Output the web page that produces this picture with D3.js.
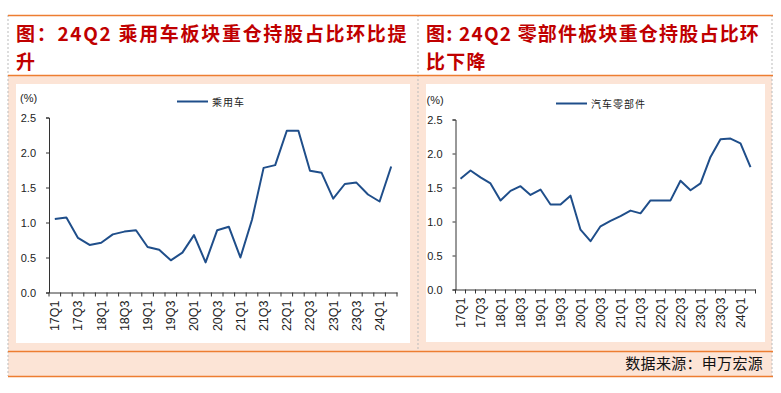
<!doctype html>
<html>
<head>
<meta charset="utf-8">
<style>
    body { margin: 0; background: #fff; }
    svg { display: block; }
    .tick text { font-family: "Liberation Sans", Arial, sans-serif; font-size: 11px; fill: #222; }
    .xlab .tick text { font-size: 12.5px; }
    .title { font-family: "Noto Sans CJK SC", sans-serif; font-weight: bold; font-size: 19px; fill: #c00000; }
</style>
<script src="https://d3js.org/d3.v7.min.js"></script>
</head>
<body>
<svg width="781" height="393"></svg>
<script>
    var quarters = ["17Q1","17Q2","17Q3","17Q4","18Q1","18Q2","18Q3","18Q4",
        "19Q1","19Q2","19Q3","19Q4","20Q1","20Q2","20Q3","20Q4",
        "21Q1","21Q2","21Q3","21Q4","22Q1","22Q2","22Q3","22Q4",
        "23Q1","23Q2","23Q3","23Q4","24Q1","24Q2"];
    var passengerCar = [1.05,1.07,0.78,0.68,0.71,0.83,0.87,0.89,
        0.65,0.61,0.46,0.57,0.82,0.43,0.89,0.94,
        0.50,1.04,1.78,1.82,2.31,2.31,1.74,1.71,
        1.34,1.55,1.57,1.40,1.30,1.80];
    var autoParts = [1.63,1.75,1.65,1.56,1.31,1.45,1.52,1.39,
        1.47,1.25,1.25,1.38,0.88,0.71,0.93,1.01,
        1.08,1.16,1.12,1.31,1.31,1.31,1.60,1.46,
        1.56,1.95,2.21,2.22,2.15,1.80];
    var yTicks = [0, 0.5, 1.0, 1.5, 2.0, 2.5];

    var svg = d3.select("svg");
    var orange = "#ed7d31", peach = "#fce4d6", blue = "#1f4e8a";

    // frame
    svg.append("rect").attr("x", 8).attr("y", 75).attr("width", 764).attr("height", 301).attr("fill", peach);
    svg.append("rect").attr("x", 16).attr("y", 84).attr("width", 394).attr("height", 259).attr("fill", "#fff");
    svg.append("rect").attr("x", 426).attr("y", 84).attr("width", 339).attr("height", 258).attr("fill", "#fff");
    [[8, 15, 8, 376], [418, 15, 418, 351], [772, 15, 772, 376]].forEach(function (l) {
        svg.append("line").attr("x1", l[0]).attr("y1", l[1]).attr("x2", l[2]).attr("y2", l[3])
            .attr("stroke", "#bbb").attr("stroke-dasharray", "2,2");
    });
    [15, 75, 351, 376].forEach(function (y) {
        svg.append("line").attr("x1", 8).attr("x2", 773).attr("y1", y + 0.5).attr("y2", y + 0.5)
            .attr("stroke", orange).attr("stroke-width", 1.3);
    });

    // titles
    function title(x, lines, spacing) {
        var t = svg.append("text").attr("class", "title").attr("letter-spacing", spacing);
        lines.forEach(function (s, i) {
            t.append("tspan").attr("x", x).attr("y", 41 + i * 28).text(s);
        });
    }
    title(16, ["图：24Q2 乘用车板块重仓持股占比环比提", "升"], 1.7);
    title(426, ["图: 24Q2 零部件板块重仓持股占比环", "比下降"], 1.2);

    svg.append("text").attr("x", 763).attr("y", 369).attr("text-anchor", "end")
        .attr("font-family", "Noto Sans CJK SC, sans-serif").attr("font-size", 15)
        .attr("letter-spacing", 0.3).attr("fill", "#111").text("数据来源：申万宏源");

    function chart(values, name, left, right, top, bottom, legendX) {
        var x = d3.scaleBand().domain(quarters).range([left, right]);
        var y = d3.scaleLinear().domain([0, 2.5]).range([bottom, top]);

        svg.append("text").attr("x", left - 29).attr("y", top - 16)
            .attr("font-family", "Liberation Sans, Arial").attr("font-size", 11).attr("fill", "#222").text("(%)");

        var ya = svg.append("g").attr("transform", "translate(" + left + ",0)")
            .call(d3.axisLeft(y).tickValues(yTicks).tickFormat(d3.format(".1f")).tickSize(3).tickSizeOuter(3).tickPadding(10));
        ya.select(".domain").attr("stroke", "#333");
        ya.selectAll(".tick line").attr("stroke", "#333");

        var xa = svg.append("g").attr("class", "xlab").attr("transform", "translate(0," + bottom + ")")
            .call(d3.axisBottom(x).tickValues(quarters.filter(function (d, i) { return i % 2 === 0; }))
                .tickSize(0).tickSizeOuter(0));
        xa.select(".domain").attr("stroke", "#333");
        xa.selectAll(".tick text").attr("transform", "rotate(-90)")
            .attr("text-anchor", "end").attr("x", -8).attr("y", 0).attr("dy", "0.35em");

        svg.append("g").selectAll("line").data(quarters.concat(["end"])).enter().append("line")
            .attr("x1", function (d) { return d === "end" ? right : x(d); })
            .attr("x2", function (d) { return d === "end" ? right : x(d); })
            .attr("y1", bottom).attr("y2", bottom + 4).attr("stroke", "#333");

        svg.append("path").datum(values)
            .attr("fill", "none").attr("stroke", blue).attr("stroke-width", 2)
            .attr("stroke-linejoin", "round")
            .attr("d", d3.line()
                .x(function (d, i) { return x(quarters[i]) + x.bandwidth() / 2; })
                .y(function (d) { return y(d); }));

        svg.append("line").attr("x1", legendX).attr("x2", legendX + 31).attr("y1", top - 16).attr("y2", top - 16)
            .attr("stroke", blue).attr("stroke-width", 2);
        svg.append("text").attr("x", legendX + 35).attr("y", top - 12)
            .attr("font-family", "Noto Sans CJK SC, sans-serif").attr("font-size", 10).attr("fill", "#222")
            .attr("letter-spacing", 1).text(name);
    }

    chart(passengerCar, "乘用车", 49, 397, 117.5, 292.5, 177);
    chart(autoParts, "汽车零部件", 455.5, 755.5, 119.5, 289.5, 556);
</script>
</body>
</html>
